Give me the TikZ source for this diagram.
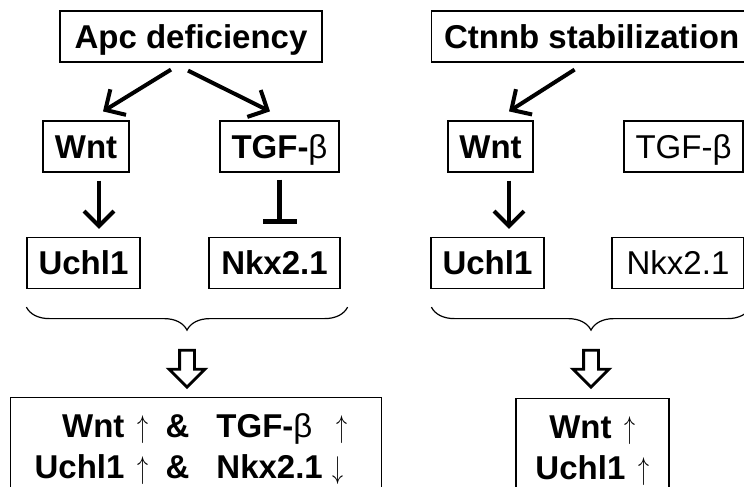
\documentclass[tikz,border=0pt]{standalone}
\usepackage{fontspec}
\usepackage{graphicx}
\setmainfont{Liberation Sans}
\usetikzlibrary{arrows.meta,shapes.arrows,decorations.pathreplacing}
\tikzset{gene box/.style={draw,line width=1.2pt,minimum height=51pt,inner sep=0pt,text height=23.5pt,text depth=0pt,font=\bfseries},
  plain box/.style={gene box,font=\mdseries},
  act/.style={line width=4pt,-{Straight Barb[length=15pt,width=30pt]}},
  inhib/.style={line width=5pt,-{Bar[width=34pt,line width=4.5pt]}},
  group brace/.style={decorate,decoration={brace,mirror,amplitude=23pt},line width=1.2pt},
  sum arrow/.style={draw,line width=2.8pt,single arrow,shape border rotate=270,minimum height=37pt,
    minimum width=33pt,single arrow head extend=10.5pt,inner sep=6pt},
  result box/.style={draw,line width=1.2pt,inner xsep=0pt,inner ysep=11pt,font=\bfseries}}
\newcommand{\arrglyph}[1]{\raisebox{-6pt}{\resizebox{11pt}{28pt}{\raisebox{\depth}{$#1$}}}}
\newcommand{\uparr}{\kern4pt\arrglyph{\uparrow}}
\newcommand{\dnarr}{\arrglyph{\downarrow}}
\newcommand{\betachar}{\textmd{β}}

\begin{document}
\fontsize{33}{41}\selectfont
\begin{tikzpicture}[x=1pt,y=-1pt]
            \useasboundingbox (0,0) rectangle (744,487);
            \clip (0,0) rectangle (744,487);

            % Apc side
            \node[gene box, minimum width=262pt] (apc) at (191,36.5) {Apc deficiency};
            \node[gene box, minimum width=86pt] (wntA) at (86,146.5) {Wnt};
            \node[gene box, minimum width=119pt] (tgfA) at (279.5,146.5) {TGF-\betachar};
            \node[gene box, minimum width=113pt] (uchA) at (83.5,263) {Uchl1};
            \node[gene box, minimum width=131pt] (nkxA) at (274.5,263) {Nkx2.1};
            \node[sum arrow] (sumA) at (187,365) {};
            \node[result box, anchor=north west] (resA) at (10,397)
              {\makebox[371pt][l]{\hspace{24pt}\begin{tabular}{@{}r@{\hspace{17pt}}c@{\hspace{27pt}}l@{}}
               Wnt \uparr & \& & TGF-\betachar\hspace{20pt}\uparr\\
               Uchl1 \uparr & \& & Nkx2.1 \dnarr
               \end{tabular}}};

            % Ctnnb side
            \node[gene box, anchor=west, minimum width=320pt] (ctnnb) at (431,36.5) {Ctnnb stabilization};
            \node[gene box, minimum width=85pt] (wntB) at (490.5,146.5) {Wnt};
            \node[plain box, minimum width=119pt] (tgfB) at (683.5,146.5) {TGF-\betachar};
            \node[gene box, minimum width=113pt] (uchB) at (487.5,263) {Uchl1};
            \node[plain box, minimum width=132pt] (nkxB) at (678,263) {Nkx2.1};
            \node[sum arrow] (sumB) at (591,365) {};
            \node[result box, anchor=north, minimum width=153pt] (resB) at (592.5,398)
              {\begin{tabular}{@{}c@{}}
               Wnt \uparr\\
               Uchl1 \uparr
               \end{tabular}};

            \draw[act] ([xshift=-20pt,yshift=-7pt]apc.south) -- ([xshift=17pt,yshift=9pt]wntA.north);
            \draw[act] ([xshift=-3pt,yshift=-8pt]apc.south) -- ([xshift=-9.5pt,yshift=9pt]tgfA.north);
            \draw[act] ([xshift=13pt,yshift=-8pt]wntA.south) -- ([xshift=15.5pt,yshift=8pt]uchA.north);
            \draw[inhib] ([yshift=-7pt]tgfA.south) -- ([xshift=5pt,yshift=13pt]nkxA.north);
            \draw[act] ([xshift=-17pt,yshift=-7pt]ctnnb.south) -- ([xshift=18.5pt,yshift=9pt]wntB.north);
            \draw[act] ([xshift=18.5pt,yshift=-8pt]wntB.south) -- ([xshift=21.5pt,yshift=8pt]uchB.north);

            \draw[group brace] ([yshift=-18pt]uchA.south west) -- ([xshift=7pt,yshift=-18pt]nkxA.south east);
            \draw[group brace] ([xshift=1pt,yshift=-18pt]uchB.south west) -- ([xshift=6pt,yshift=-18pt]nkxB.south east);
        \end{tikzpicture}
\end{document}
